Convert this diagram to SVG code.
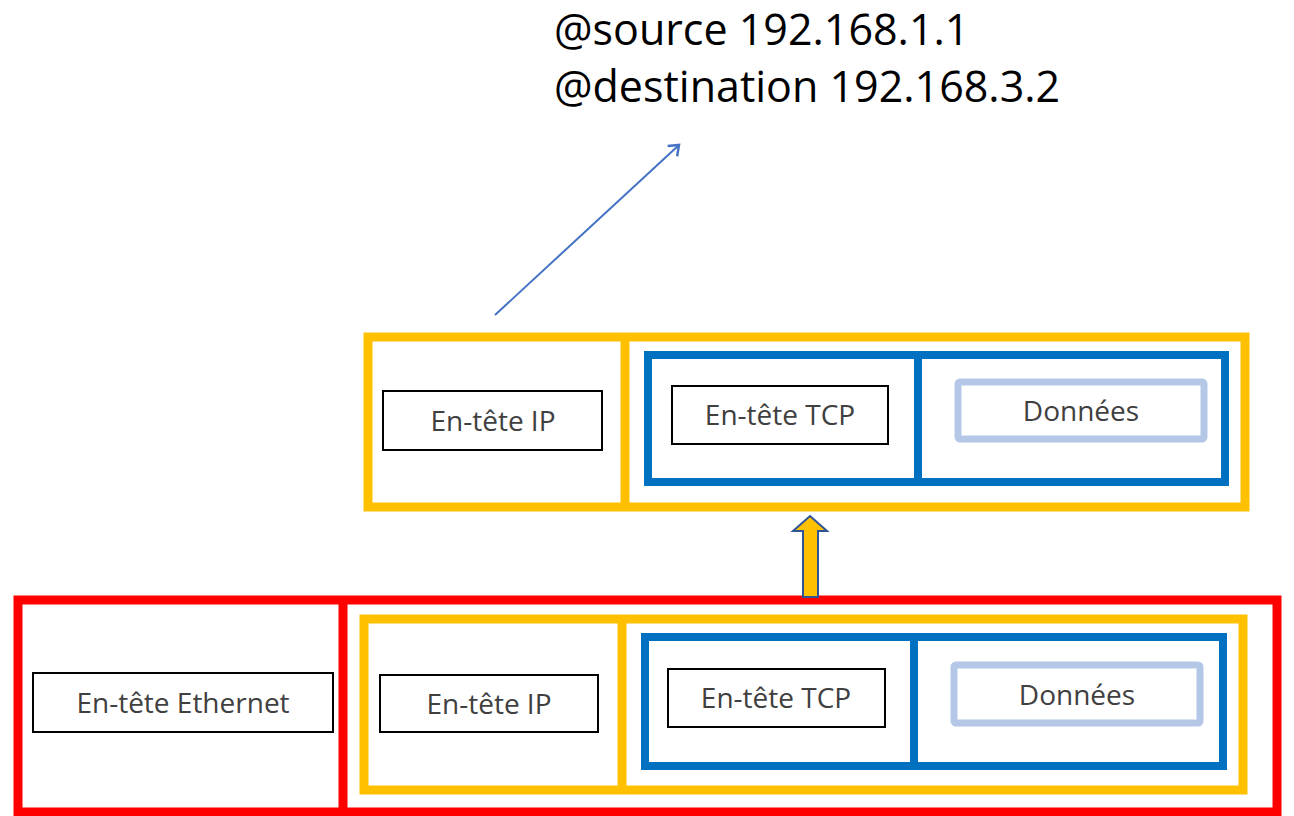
<svg xmlns="http://www.w3.org/2000/svg" width="1294" height="816" viewBox="0 0 1294 816">
<defs>
<style>
.yel{fill:none;stroke:#FFC000;stroke-width:9}
.blu{fill:none;stroke:#0070C0;stroke-width:8}
.red{fill:none;stroke:#FF0000;stroke-width:9}
.box{fill:#fff;stroke:#000;stroke-width:2}
.dat{fill:#fff;stroke:#B4C7E7;stroke-width:7}
.lbl{font-family:"Open Sans","Noto Sans",sans-serif;font-size:28px;fill:#404040;text-anchor:middle}
.big{font-family:"Open Sans","Noto Sans",sans-serif;font-size:43px;fill:#000}
</style>
<marker id="open" markerWidth="20" markerHeight="20" refX="10" refY="10" orient="auto" markerUnits="userSpaceOnUse">
<path d="M1,3 L10,10 L1,17" fill="none" stroke="#4472C4" stroke-width="2.5"/>
</marker>
</defs>
<rect width="1294" height="816" fill="#fff"/>
<g id="address">
<text class="big" x="554" y="45">@source 192.168.1.1</text>
<text class="big" x="554" y="102">@destination 192.168.3.2</text>
</g>
<g id="ip-packet">
<rect class="yel" x="368" y="337" width="877" height="170"/>
<line class="yel" x1="625" y1="337" x2="625" y2="507"/>
<rect class="box" x="383" y="391" width="219" height="59"/>
<text class="lbl" x="493" y="431">En-tête IP</text>
<rect class="blu" x="648" y="355" width="577" height="127"/>
<line class="blu" x1="918" y1="355" x2="918" y2="482"/>
<rect class="box" x="672" y="386" width="216" height="58"/>
<text class="lbl" x="780" y="425">En-tête TCP</text>
<rect class="dat" x="958" y="382" width="246" height="57" rx="2"/>
<text class="lbl" x="1081" y="421">Données</text>
</g>
<g id="ethernet-frame">
<rect class="red" x="18" y="600" width="1259" height="212"/>
<line class="red" x1="343" y1="600" x2="343" y2="812"/>
<rect class="box" x="33" y="673" width="300" height="59"/>
<text class="lbl" x="183" y="713">En-tête Ethernet</text>
<rect class="yel" x="364" y="619" width="879" height="171"/>
<line class="yel" x1="622" y1="619" x2="622" y2="790"/>
<rect class="box" x="380" y="675" width="218" height="57"/>
<text class="lbl" x="489" y="714">En-tête IP</text>
<rect class="blu" x="645" y="637" width="578" height="129"/>
<line class="blu" x1="914" y1="637" x2="914" y2="766"/>
<rect class="box" x="668" y="669" width="217" height="58"/>
<text class="lbl" x="776" y="708">En-tête TCP</text>
<rect class="dat" x="954" y="665" width="246" height="58" rx="2"/>
<text class="lbl" x="1077" y="705">Données</text>
</g>
<g id="connectors">
<line x1="495" y1="315" x2="679" y2="145" stroke="#4472C4" stroke-width="2" marker-end="url(#open)"/>
<path d="M810,516 L827,531 L818,531 L818,597 L803,597 L803,531 L793,531 Z" fill="#FFC000" stroke="#2F5597" stroke-width="2"/>
</g>
</svg>
